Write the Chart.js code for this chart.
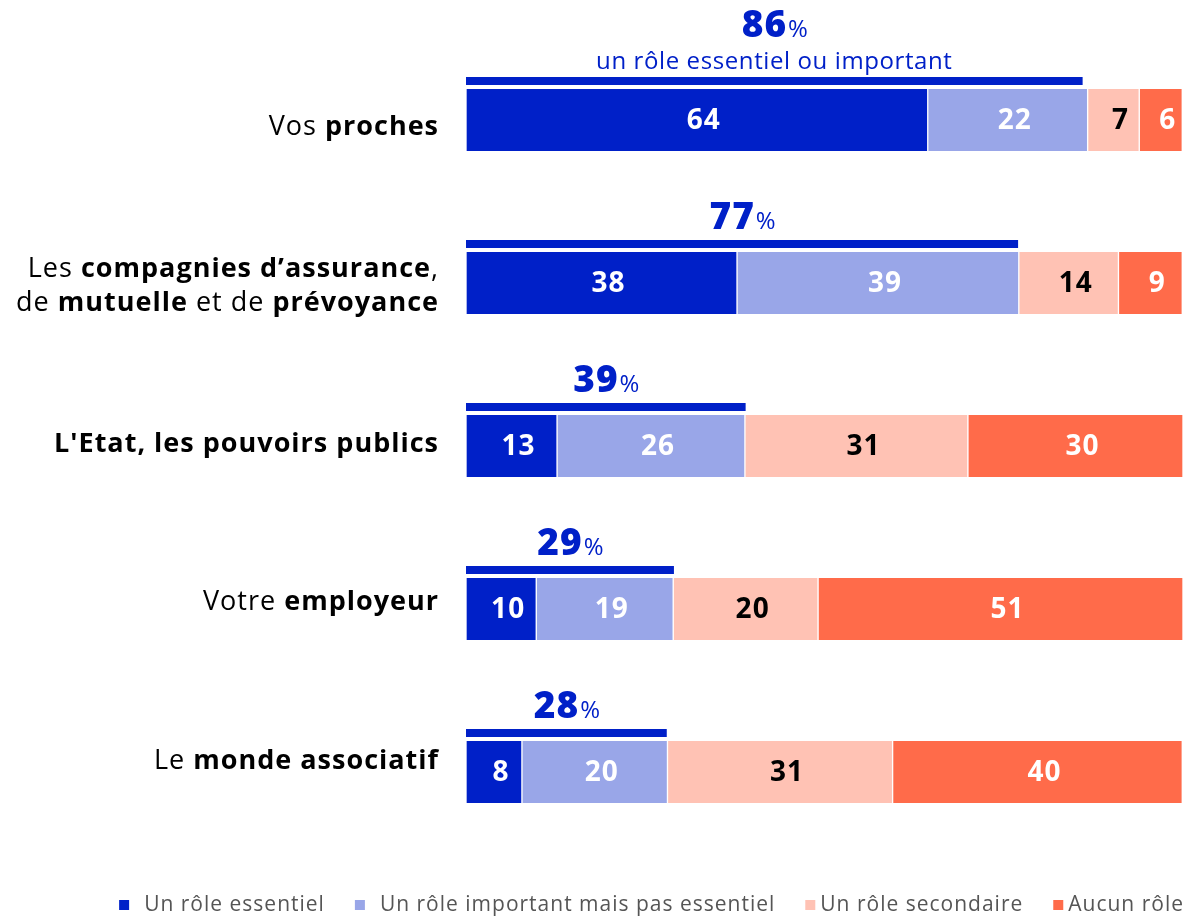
<!DOCTYPE html>
<html><head><meta charset="utf-8">
<script src="https://cdn.jsdelivr.net/npm/chart.js@4.4.0/dist/chart.umd.min.js"></script>
<style>html,body{margin:0;padding:0;background:#fff}#wrap{width:1186px;height:919px;position:relative}</style>
</head><body><div id="wrap"><canvas id="c"></canvas></div>
<script>
const categories = ["Vos proches", "Les compagnies d’assurance, de mutuelle et de prévoyance", "L'Etat, les pouvoirs publics", "Votre employeur", "Le monde associatif"];
const categoryRuns = [
  [[["Vos ", 0], ["proches", 1]]],
  [[["Les ", 0], ["compagnies d’assurance", 1], [",", 0]], [["de ", 0], ["mutuelle", 1], [" et de ", 0], ["prévoyance", 1]]],
  [[["L'Etat, les pouvoirs publics", 1]]],
  [[["Votre ", 0], ["employeur", 1]]],
  [[["Le ", 0], ["monde associatif", 1]]]
];
const seriesNames = ["Un rôle essentiel", "Un rôle important mais pas essentiel", "Un rôle secondaire", "Aucun rôle"];
const essentiel  = [64.4, 37.8, 12.7, 9.8, 7.8];
const important  = [22.3, 39.3, 26.2, 19.1, 20.3];
const secondaire = [7.2, 13.9, 31.1, 20.2, 31.4];
const aucun      = [6.0, 8.9, 30.0, 50.9, 40.4];
const totalEssImp = [86, 77, 39, 29, 28];
const totalSubtitle = "un rôle essentiel ou important";

const BLUE = '#0020c8';
const colors = ['#0020c8', '#99a6e8', '#ffc2b4', '#ff6b4a'];
const labelColors = ['#ffffff', '#ffffff', '#000000', '#ffffff'];
const FONT = '"Open Sans"';

function setFont(ctx, f, ls) { ctx.font = f; ctx.letterSpacing = (ls || 0) + 'px'; }

const overlay = {
  id: 'overlay',
  afterDatasetsDraw(chart) {
    const ctx = chart.ctx;
    const xs = chart.scales.x;
    ctx.save();
    // segment labels
    chart.data.datasets.forEach((ds, di) => {
      const meta = chart.getDatasetMeta(di);
      meta.data.forEach((el, i) => {
        const cx = (el.x + el.base) / 2 + 7;
        setFont(ctx, `bold 28px ${FONT}`, 1);
        ctx.fillStyle = labelColors[di];
        ctx.textAlign = 'center';
        ctx.textBaseline = 'middle';
        ctx.fillText(String(Math.round(ds.data[i])), cx, el.y + 1);
      });
    });
    // totals lines and labels
    const meta0 = chart.getDatasetMeta(0);
    meta0.data.forEach((el, i) => {
      const top = el.y - el.height / 2;
      const x0 = xs.getPixelForValue(0);
      const x1 = xs.getPixelForValue(totalEssImp[i]);
      ctx.fillStyle = BLUE;
      ctx.fillRect(x0, top - 12, x1 - x0, 8);
      const mid = (x0 + x1) / 2;
      const num = String(totalEssImp[i]);
      setFont(ctx, `800 37px ${FONT}`, 1);
      const wN = ctx.measureText(num).width;
      setFont(ctx, `24px ${FONT}`, 0);
      const wP = ctx.measureText('%').width;
      const sx = mid - (wN + wP) / 2;
      let base = top - 23;
      if (i === 0) {
        setFont(ctx, `24px ${FONT}`, 0.6);
        ctx.textAlign = 'center';
        ctx.textBaseline = 'alphabetic';
        ctx.fillText(totalSubtitle, mid, top - 20);
        base = top - 52;
      }
      ctx.textAlign = 'left';
      ctx.textBaseline = 'alphabetic';
      setFont(ctx, `800 37px ${FONT}`, 1);
      ctx.fillText(num, sx, base);
      setFont(ctx, `24px ${FONT}`, 0);
      ctx.fillText('%', sx + wN + 1, base);
    });
    // category labels (evenly spread, slightly off the bar centres as in the source)
    const right = 439;
    const n = meta0.data.length;
    const yFirst = meta0.data[0].y + 7.5;
    const yLast = meta0.data[n - 1].y - 11;
    meta0.data.forEach((el, i) => {
      const lines = categoryRuns[i];
      const lh = 34;
      const yc = yFirst + i * (yLast - yFirst) / (n - 1);
      lines.forEach((runs, li) => {
        const y = yc + (li - (lines.length - 1) / 2) * lh;
        let w = 0;
        runs.forEach(r => { setFont(ctx, `${r[1] ? 'bold ' : ''}27px ${FONT}`, 1); w += ctx.measureText(r[0]).width; });
        let x = right - w;
        ctx.textAlign = 'left';
        ctx.textBaseline = 'middle';
        ctx.fillStyle = '#000';
        runs.forEach(r => { setFont(ctx, `${r[1] ? 'bold ' : ''}27px ${FONT}`, 1); ctx.fillText(r[0], x, y); x += ctx.measureText(r[0]).width; });
      });
    });
    // legend
    const gaps = [15, 15, 5, 5];
    setFont(ctx, `21px ${FONT}`, 1);
    const widths = seriesNames.map(s => ctx.measureText(s).width);
    let total = 0;
    widths.forEach((w, i) => { total += 10 + gaps[i] + w + (i < widths.length - 1 ? 30 : 0); });
    let lx = 1184 - total;
    const ly = 905;
    seriesNames.forEach((s, i) => {
      ctx.fillStyle = colors[i];
      ctx.fillRect(lx, ly - 5, 10, 10);
      lx += 10 + gaps[i];
      ctx.fillStyle = '#555';
      ctx.textAlign = 'left';
      ctx.textBaseline = 'middle';
      ctx.fillText(s, lx, ly);
      lx += widths[i] + 30;
    });
    ctx.restore();
  }
};

const dataArrays = [essentiel, important, secondaire, aucun];
new Chart(document.getElementById('c'), {
  type: 'bar',
  data: {
    labels: categories,
    datasets: dataArrays.map((d, i) => ({
      label: seriesNames[i],
      data: d,
      backgroundColor: colors[i],
      borderColor: '#ffffff',
      borderWidth: { left: 1, right: 1 },
      borderSkipped: false,
      barThickness: 62
    }))
  },
  options: {
    indexAxis: 'y',
    responsive: true,
    maintainAspectRatio: false,
    animation: false,
    layout: { padding: { left: 466, right: 3, top: 38.5, bottom: 65.5 } },
    scales: {
      x: { stacked: true, min: 0, max: 100, display: false },
      y: { stacked: true, display: false }
    },
    plugins: {
      tooltip: { enabled: false },
      legend: { display: false }
    }
  },
  plugins: [overlay]
});
</script>
</body></html>
